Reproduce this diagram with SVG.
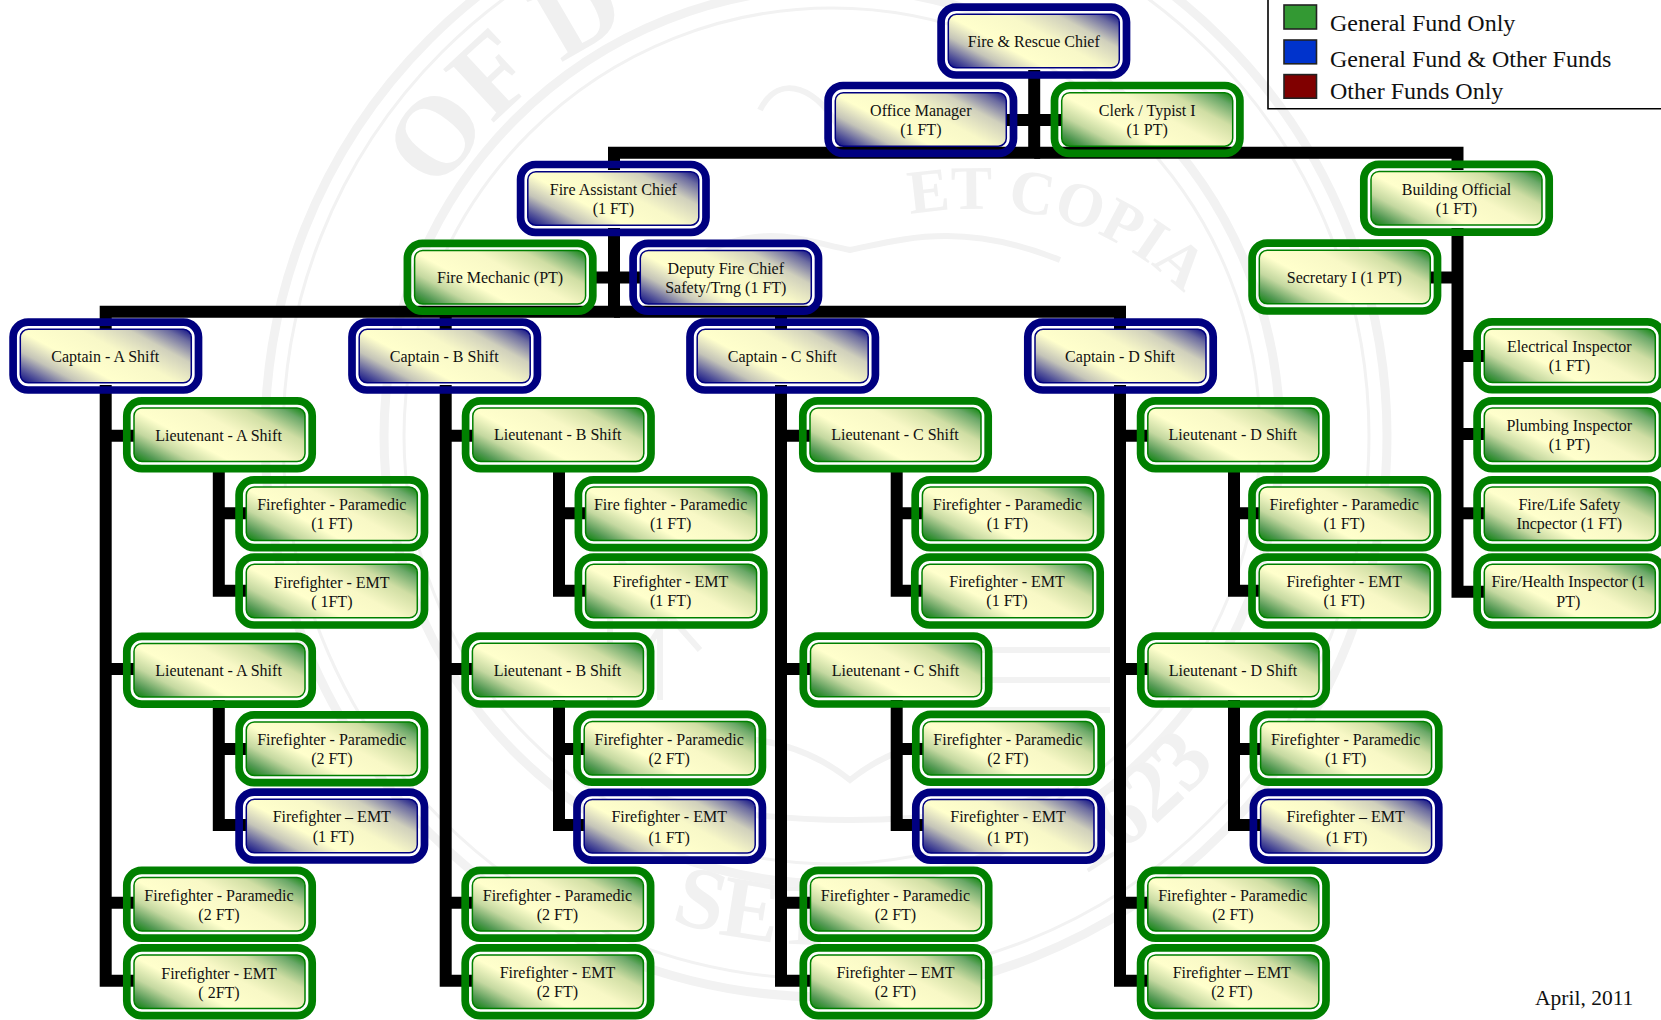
<svg xmlns="http://www.w3.org/2000/svg" width="1661" height="1020" viewBox="0 0 1661 1020">
<style>
text{font-family:"Liberation Serif","Times New Roman",serif;fill:#111}
.t{font-size:16px;text-anchor:middle}
.lg{font-size:24px}
.c{fill:none;stroke:#000;stroke-width:12}
.wl{fill:none;stroke:#f2f2f2}
.wt{fill:#f0f0f0;font-weight:bold;font-size:112px}
.wb{fill:#f1f1f1;font-size:62px;font-weight:bold}
.wn{fill:#f1f1f1;font-size:88px;font-weight:bold}
.sw{stroke:#222;stroke-width:1.6}
</style>
<defs>
<linearGradient id="gn" x1="-0.1" y1="0.85" x2="1.1" y2="0.15"><stop offset="0" stop-color="#000080"/><stop offset="0.1" stop-color="#55559a"/><stop offset="0.22" stop-color="#c4c4b8"/><stop offset="0.36" stop-color="#ffffcc"/><stop offset="0.58" stop-color="#f8f8c8"/><stop offset="0.76" stop-color="#d0d0bc"/><stop offset="0.9" stop-color="#6a6aa0"/><stop offset="1" stop-color="#000080"/></linearGradient>
<linearGradient id="gg" x1="-0.1" y1="0.85" x2="1.1" y2="0.15"><stop offset="0" stop-color="#008000"/><stop offset="0.1" stop-color="#559a55"/><stop offset="0.22" stop-color="#c4d8a0"/><stop offset="0.36" stop-color="#ffffcc"/><stop offset="0.58" stop-color="#f8f8c6"/><stop offset="0.76" stop-color="#d0dea4"/><stop offset="0.9" stop-color="#6aa868"/><stop offset="1" stop-color="#008000"/></linearGradient>
<g id="bn"><rect x="3.8" y="3.8" width="185.4" height="67.9" rx="15" fill="none" stroke="#000080" stroke-width="7.7"/><rect x="11" y="11" width="171" height="53.5" rx="8" fill="url(#gn)" stroke="#000080" stroke-width="1.5"/></g>
<g id="bg"><rect x="3.8" y="3.8" width="185.4" height="67.9" rx="15" fill="none" stroke="#008000" stroke-width="7.7"/><rect x="11" y="11" width="171" height="53.5" rx="8" fill="url(#gg)" stroke="#008000" stroke-width="1.5"/></g>
<path id="arcTop" d="M370 436A456 456 0 0 1 826 -20"/>
<path id="arcIn" d="M905 215Q1080 185 1190 300"/>
<path id="arcBot" d="M347 610A510 510 0 0 0 1305 610"/>
</defs>
<g id="watermark">
<circle class="wl" cx="826" cy="436" r="561" stroke-width="9"/>
<circle class="wl" cx="826" cy="436" r="543" stroke-width="3"/>
<circle class="wl" cx="832" cy="436" r="448" stroke-width="9"/>
<circle class="wl" cx="832" cy="436" r="428" stroke-width="3"/>
<text class="wt"><textPath href="#arcTop" startOffset="255">OF D</textPath></text>
<text class="wb"><textPath href="#arcIn" startOffset="5">ET COPIA</textPath></text>
<text class="wn"><textPath href="#arcBot" startOffset="464">SET</textPath></text>
<text class="wn"><textPath href="#arcBot" startOffset="891">1623</textPath></text>
<path class="wl" stroke-width="6" d="M690 260C760 220 800 240 850 250C900 240 960 220 1060 260M760 110C780 70 820 90 840 130M620 560L700 650M640 660L690 580M640 790C740 830 960 830 1060 790M640 760C720 720 800 740 850 780C900 740 980 720 1060 760M610 600V700M660 600V700M980 650H1110M980 680H1110M980 710H1110"/>
</g>
<g id="connectors">
<path class="c" d="M1034.2 70V152.7H614V170"/>
<path class="c" d="M1034.2 152.7H1457.5V170"/>
<path class="c" d="M1005 120H1065"/>
<path class="c" d="M614 228V311.8H105.7V330"/>
<path class="c" d="M614 311.8H1120V330"/>
<path class="c" d="M445.7 311.8V330"/>
<path class="c" d="M781 311.8V330"/>
<path class="c" d="M590 277.6H640"/>
<path class="c" d="M1457.5 228V591.8H1485"/>
<path class="c" d="M1428 277.5H1457.5"/>
<path class="c" d="M1457.5 356H1485"/>
<path class="c" d="M1457.5 434H1485"/>
<path class="c" d="M1457.5 513.3H1485"/>
<path class="c" d="M105.7 385V980.7H135"/>
<path class="c" d="M105.7 435.8H135M105.7 669H135M105.7 902.7H135"/>
<path class="c" d="M218.8 465V590.8H247M218.8 513.3H247"/>
<path class="c" d="M218.8 700V825H247M218.8 749H247"/>
<path class="c" d="M445.7 385V980.7H473"/>
<path class="c" d="M445.7 435.8H473M445.7 669H473M445.7 902.7H473"/>
<path class="c" d="M559 465V590.8H586M559 513.3H586"/>
<path class="c" d="M559 700V825H585M559 749H585"/>
<path class="c" d="M781 385V980.7H811"/>
<path class="c" d="M781 435.8H811M781 669H811M781 902.7H811"/>
<path class="c" d="M896.7 465V590.8H923M896.7 513.3H923"/>
<path class="c" d="M896.7 700V825H924M896.7 749H924"/>
<path class="c" d="M1120 385V980.7H1148"/>
<path class="c" d="M1120 435.8H1148M1120 669H1148M1120 902.7H1148"/>
<path class="c" d="M1234 465V590.8H1260M1234 513.3H1260"/>
<path class="c" d="M1234 700V825H1261M1234 749H1261"/>
</g>
<g id="chief" transform="translate(937.3 3.3)"><use href="#bn"/><text class="t" x="96.5" y="43.5">Fire &amp; Rescue Chief</text></g>
<g id="office" transform="translate(824.3 81.7)"><use href="#bn"/><text class="t"><tspan x="96.5" y="34.3">Office Manager</tspan><tspan x="96.5" y="53.6">(1 FT)</tspan></text></g>
<g id="clerk" transform="translate(1050.7 81.7)"><use href="#bg"/><text class="t"><tspan x="96.5" y="34.3">Clerk / Typist I</tspan><tspan x="96.5" y="53.6">(1 PT)</tspan></text></g>
<g id="assistant" transform="translate(516.8 160.7)"><use href="#bn"/><text class="t"><tspan x="96.5" y="34.3">Fire Assistant Chief</tspan><tspan x="96.5" y="53.3">(1 FT)</tspan></text></g>
<g id="building" transform="translate(1360 160.5)"><use href="#bg"/><text class="t"><tspan x="96.5" y="34.3">Building Official</tspan><tspan x="96.5" y="53.3">(1 FT)</tspan></text></g>
<g id="mechanic" transform="translate(403.6 239.5)"><use href="#bg"/><text class="t" x="96.5" y="43.5">Fire Mechanic (PT)</text></g>
<g id="deputy" transform="translate(629.3 239.5)"><use href="#bn"/><text class="t"><tspan x="96.5" y="34.3">Deputy Fire Chief</tspan><tspan x="96.5" y="53.3">Safety/Trng (1 FT)</tspan></text></g>
<g id="secretary" transform="translate(1248.3 239.3)"><use href="#bg"/><text class="t" x="96" y="43.5">Secretary I (1 PT)</text></g>
<g id="elec" transform="translate(1473.3 318)"><use href="#bg"/><text class="t"><tspan x="96" y="34.3">Electrical Inspector</tspan><tspan x="96" y="53">(1 FT)</tspan></text></g>
<g id="plumb" transform="translate(1473.3 397)"><use href="#bg"/><text class="t"><tspan x="96" y="34.3">Plumbing Inspector</tspan><tspan x="96" y="53">(1 PT)</tspan></text></g>
<g id="life" transform="translate(1473.3 476)"><use href="#bg"/><text class="t"><tspan x="96" y="34.3">Fire/Life Safety</tspan><tspan x="96" y="53.3">Incpector (1 FT)</tspan></text></g>
<g id="health" transform="translate(1473.3 553.3)"><use href="#bg"/><text class="t"><tspan x="95" y="34">Fire/Health Inspector (1</tspan><tspan x="95" y="53.3">PT)</tspan></text></g>
<g id="capA" transform="translate(9.3 318.3)"><use href="#bn"/><text class="t" x="96" y="43.5">Captain - A Shift</text></g>
<g id="capB" transform="translate(348.2 318.3)"><use href="#bn"/><text class="t" x="96" y="43.5">Captain - B Shift</text></g>
<g id="capC" transform="translate(686.2 318.3)"><use href="#bn"/><text class="t" x="96" y="43.5">Captain - C Shift</text></g>
<g id="capD" transform="translate(1024 318.3)"><use href="#bn"/><text class="t" x="96" y="43.5">Captain - D Shift</text></g>
<g id="a1" transform="translate(123 397)"><use href="#bg"/><text class="t" x="95.5" y="43.5">Lieutenant - A Shift</text></g>
<g id="a2" transform="translate(235.3 476)"><use href="#bg"/><text class="t"><tspan x="96.5" y="34.3">Firefighter - Paramedic</tspan><tspan x="96.5" y="53.3">(1 FT)</tspan></text></g>
<g id="a3" transform="translate(235.3 553.3)"><use href="#bg"/><text class="t"><tspan x="96.5" y="34.8">Firefighter - EMT</tspan><tspan x="96.5" y="54">( 1FT)</tspan></text></g>
<g id="a4" transform="translate(123 632.5)"><use href="#bg"/><text class="t" x="95.5" y="43.5">Lieutenant - A Shift</text></g>
<g id="a5" transform="translate(235.3 711)"><use href="#bg"/><text class="t"><tspan x="96.5" y="34">Firefighter - Paramedic</tspan><tspan x="96.5" y="53.3">(2 FT)</tspan></text></g>
<g id="a6" transform="translate(235.3 788.3)"><use href="#bn"/><text class="t"><tspan x="96.5" y="33.7">Firefighter – EMT</tspan><tspan x="98" y="54">(1 FT)</tspan></text></g>
<g id="a7" transform="translate(123 866.5)"><use href="#bg"/><text class="t"><tspan x="96" y="34">Firefighter - Paramedic</tspan><tspan x="96" y="53.3">(2 FT)</tspan></text></g>
<g id="a8" transform="translate(123 944)"><use href="#bg"/><text class="t"><tspan x="96" y="34.8">Firefighter - EMT</tspan><tspan x="96" y="54">( 2FT)</tspan></text></g>
<g id="b1" transform="translate(461.8 397)"><use href="#bg"/><text class="t" x="96" y="43">Lieutenant - B Shift</text></g>
<g id="b2" transform="translate(574.6 476)"><use href="#bg"/><text class="t"><tspan x="96" y="34.3">Fire fighter - Paramedic</tspan><tspan x="96" y="53.3">(1 FT)</tspan></text></g>
<g id="b3" transform="translate(574.6 553.3)"><use href="#bg"/><text class="t"><tspan x="96" y="34">Firefighter - EMT</tspan><tspan x="96" y="53">(1 FT)</tspan></text></g>
<g id="b4" transform="translate(461.4 632.3)"><use href="#bg"/><text class="t" x="96" y="43.5">Lieutenant - B Shift</text></g>
<g id="b5" transform="translate(573.2 710.5)"><use href="#bg"/><text class="t"><tspan x="96" y="34.3">Firefighter - Paramedic</tspan><tspan x="96" y="53.3">(2 FT)</tspan></text></g>
<g id="b6" transform="translate(573.2 788.5)"><use href="#bn"/><text class="t"><tspan x="96" y="33.7">Firefighter - EMT</tspan><tspan x="96" y="54">(1 FT)</tspan></text></g>
<g id="b7" transform="translate(461.4 866.5)"><use href="#bg"/><text class="t"><tspan x="96" y="34">Firefighter - Paramedic</tspan><tspan x="96" y="53.3">(2 FT)</tspan></text></g>
<g id="b8" transform="translate(461.4 944)"><use href="#bg"/><text class="t"><tspan x="96" y="34">Firefighter - EMT</tspan><tspan x="96" y="53.3">(2 FT)</tspan></text></g>
<g id="c1" transform="translate(799 397)"><use href="#bg"/><text class="t" x="96" y="43">Lieutenant - C Shift</text></g>
<g id="c2" transform="translate(911.4 476)"><use href="#bg"/><text class="t"><tspan x="96" y="34.3">Firefighter - Paramedic</tspan><tspan x="96" y="53.3">(1 FT)</tspan></text></g>
<g id="c3" transform="translate(911 553.3)"><use href="#bg"/><text class="t"><tspan x="96" y="34">Firefighter - EMT</tspan><tspan x="96" y="53">(1 FT)</tspan></text></g>
<g id="c4" transform="translate(799.5 632.3)"><use href="#bg"/><text class="t" x="96" y="43.5">Lieutenant - C Shift</text></g>
<g id="c5" transform="translate(912 710.5)"><use href="#bg"/><text class="t"><tspan x="96" y="34.3">Firefighter - Paramedic</tspan><tspan x="96" y="53.3">(2 FT)</tspan></text></g>
<g id="c6" transform="translate(912 788.5)"><use href="#bn"/><text class="t"><tspan x="96" y="33.7">Firefighter - EMT</tspan><tspan x="96" y="54">(1 PT)</tspan></text></g>
<g id="c7" transform="translate(799.5 866.5)"><use href="#bg"/><text class="t"><tspan x="96" y="34">Firefighter - Paramedic</tspan><tspan x="96" y="53.3">(2 FT)</tspan></text></g>
<g id="c8" transform="translate(799.5 944)"><use href="#bg"/><text class="t"><tspan x="96" y="34">Firefighter – EMT</tspan><tspan x="96" y="53.3">(2 FT)</tspan></text></g>
<g id="d1" transform="translate(1136.8 397)"><use href="#bg"/><text class="t" x="96" y="43">Lieutenant - D Shift</text></g>
<g id="d2" transform="translate(1248.2 476)"><use href="#bg"/><text class="t"><tspan x="96" y="34.3">Firefighter - Paramedic</tspan><tspan x="96" y="53.3">(1 FT)</tspan></text></g>
<g id="d3" transform="translate(1248.2 553.3)"><use href="#bg"/><text class="t"><tspan x="96" y="34">Firefighter - EMT</tspan><tspan x="96" y="53">(1 FT)</tspan></text></g>
<g id="d4" transform="translate(1137 632.3)"><use href="#bg"/><text class="t" x="96" y="43.5">Lieutenant - D Shift</text></g>
<g id="d5" transform="translate(1249.6 710.5)"><use href="#bg"/><text class="t"><tspan x="96" y="34.3">Firefighter - Paramedic</tspan><tspan x="96" y="53.3">(1 FT)</tspan></text></g>
<g id="d6" transform="translate(1249.6 788.5)"><use href="#bn"/><text class="t"><tspan x="96" y="33.7">Firefighter – EMT</tspan><tspan x="97" y="54">(1 FT)</tspan></text></g>
<g id="d7" transform="translate(1136.8 866.5)"><use href="#bg"/><text class="t"><tspan x="96" y="34">Firefighter - Paramedic</tspan><tspan x="96" y="53.3">(2 FT)</tspan></text></g>
<g id="d8" transform="translate(1136.8 944)"><use href="#bg"/><text class="t"><tspan x="95" y="34">Firefighter – EMT</tspan><tspan x="95" y="53.3">(2 FT)</tspan></text></g>
<g id="legend">
<path d="M1268 0V108.7H1661" fill="none" stroke="#000" stroke-width="1.6"/>
<rect class="sw" x="1284" y="5" width="32.5" height="24" fill="#339933"/>
<rect class="sw" x="1284" y="40" width="32.5" height="23.8" fill="#0033cc"/>
<rect class="sw" x="1284" y="74.6" width="32.5" height="23.6" fill="#800000"/>
<text class="lg" x="1330" y="31">General Fund Only</text>
<text class="lg" x="1330" y="67">General Fund &amp; Other Funds</text>
<text class="lg" x="1330" y="98.7">Other Funds Only</text>
</g>
<text id="date" class="lg" x="1535" y="1005" style="font-size:21.5px">April, 2011</text>
</svg>
